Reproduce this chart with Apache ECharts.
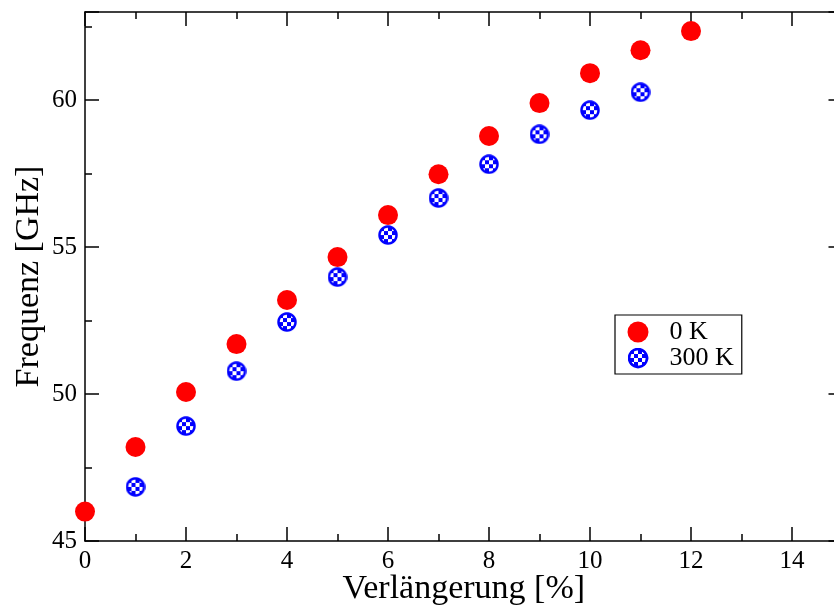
<!DOCTYPE html>
<html><head><meta charset="utf-8">
<script src="https://cdn.jsdelivr.net/npm/echarts@6/dist/echarts.min.js"></script>
<style>html,body{margin:0;padding:0;background:#fff}#c{width:834px;height:610px}</style>
</head><body><div id="c"></div>
<script>
const xs0 = [0,1,2,3,4,5,6,7,8,9,10,11,12];
const freq0K = [46.0,48.2,50.07,51.7,53.2,54.66,56.09,57.48,58.78,59.9,60.92,61.7,62.35];
const xs300 = [1,2,3,4,5,6,7,8,9,10,11];
const freq300K = [46.84,48.91,50.78,52.45,53.98,55.41,56.67,57.82,58.84,59.66,60.27];
const seriesNames = ['0 K','300 K'];
const xTitle = 'Verlängerung [%]';
const yTitle = 'Frequenz [GHz]';

// checkered marker image
function checkerMarker(){
  const S = 40, c = document.createElement('canvas');
  c.width = S; c.height = S;
  const g = c.getContext('2d');
  const r = S/2;
  g.save();
  g.beginPath(); g.arc(r, r, r-1, 0, Math.PI*2); g.clip();
  g.fillStyle = '#fff'; g.fillRect(0,0,S,S);
  g.fillStyle = '#0000ff';
  const q = 8;
  for (let i=0;i<S/q;i++) for (let j=0;j<S/q;j++) if ((i+j)%2===0) g.fillRect(i*q+4, j*q+4, q, q);
  g.restore();
  g.beginPath(); g.arc(r, r, r-3, 0, Math.PI*2);
  g.lineWidth = 5; g.strokeStyle = '#0000ff'; g.stroke();
  return 'image://' + c.toDataURL();
}
const checker = checkerMarker();

const font = 'Liberation Serif';
const chart = echarts.init(document.getElementById('c'), null, {renderer:'canvas'});
const axisCommon = {
  axisLine:{show:true,onZero:false,lineStyle:{color:'#000',width:1.5}},
  axisTick:{show:true,inside:true,length:14,lineStyle:{color:'#000',width:1.5}},
  minorTick:{show:true,splitNumber:2,length:7,lineStyle:{color:'#000',width:1.5}},
  splitLine:{show:false}
};
chart.setOption({
  animation:false,
  backgroundColor:'#fff',
  grid:{left:85,top:12,width:757.5,height:529,containLabel:false,outerBoundsMode:'none'},
  legend:{
    orient:'vertical', left:615, top:315,
    backgroundColor:'#fff', borderColor:'#000', borderWidth:1.2,
    padding:[4,8,3,12.5], itemGap:0, itemWidth:21, itemHeight:21,
    textStyle:{fontFamily:font,fontSize:26,color:'#000',padding:[0,0,0,16]},
    data:[{name:seriesNames[0],icon:'circle'},{name:seriesNames[1],icon:checker}]
  },
  xAxis:[
    Object.assign({type:'value',min:0,max:15,interval:2,position:'bottom',
      name:xTitle,nameLocation:'middle',nameGap:31,nameMoveOverlap:false,
      nameTextStyle:{fontFamily:font,fontSize:34,color:'#000'},
      axisLabel:{fontFamily:font,fontSize:25,color:'#000',margin:8,
        formatter:v=> (v%2===0 && v<=14) ? String(v) : ''}}, axisCommon),
    Object.assign({type:'value',min:0,max:15,interval:2,position:'top',
      axisLabel:{show:false}}, axisCommon)
  ],
  yAxis:[
    Object.assign({type:'value',min:45,max:63,interval:5,position:'left',
      name:yTitle,nameLocation:'middle',nameGap:39,nameMoveOverlap:false,
      nameTextStyle:{fontFamily:font,fontSize:34,color:'#000'},
      axisLabel:{fontFamily:font,fontSize:25,color:'#000',margin:8,
        formatter:v=> (v%5===0) ? String(v) : ''}}, axisCommon),
    Object.assign({type:'value',min:45,max:63,interval:5,position:'right',
      axisLabel:{show:false}}, axisCommon)
  ],
  series:[
    {name:seriesNames[0],type:'scatter',symbol:'circle',symbolSize:20,
     itemStyle:{color:'#ff0000',opacity:1},
     data:xs0.map((x,i)=>[x,freq0K[i]])},
    {name:seriesNames[1],type:'scatter',symbol:checker,symbolSize:20,
     itemStyle:{color:'#0000ff',opacity:1},
     data:xs300.map((x,i)=>[x,freq300K[i]])}
  ]
});
</script></body></html>
